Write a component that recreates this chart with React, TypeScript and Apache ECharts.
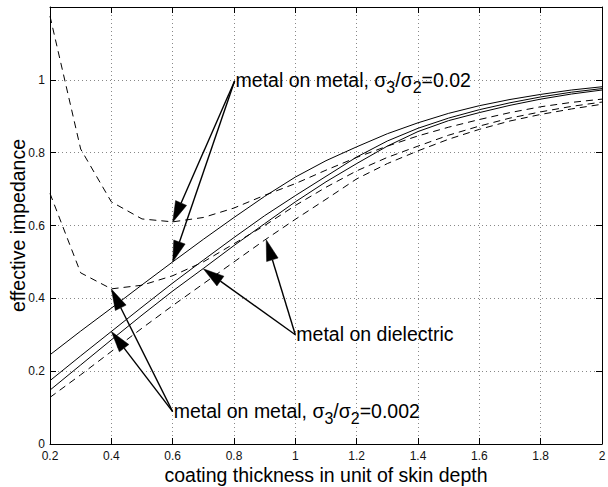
import React, { useEffect, useRef } from "react";
import * as echarts from "echarts";

// coating thickness in unit of skin depth
const thickness = [0.2, 0.3, 0.4, 0.5, 0.6, 0.7, 0.8, 0.9, 1.0, 1.1, 1.2, 1.3, 1.4, 1.5, 1.6, 1.7, 1.8, 1.9, 2.0];

// metal on metal, sigma3/sigma2 = 0.02
const mm002Solid = [0.245, 0.31, 0.373, 0.437, 0.5, 0.562, 0.622, 0.68, 0.733, 0.778, 0.816, 0.852, 0.882, 0.908, 0.929, 0.946, 0.96, 0.972, 0.981];
const mm002Dashed = [1.175, 0.81, 0.665, 0.618, 0.61, 0.622, 0.648, 0.683, 0.715, 0.752, 0.787, 0.818, 0.846, 0.87, 0.891, 0.91, 0.926, 0.938, 0.947];

// metal on metal, sigma3/sigma2 = 0.002
const mm0002Solid = [0.174, 0.242, 0.309, 0.376, 0.442, 0.505, 0.567, 0.627, 0.682, 0.735, 0.788, 0.832, 0.867, 0.895, 0.918, 0.937, 0.953, 0.966, 0.976];
const mm0002Dashed = [0.688, 0.47, 0.426, 0.436, 0.462, 0.5, 0.55, 0.6, 0.655, 0.705, 0.75, 0.787, 0.818, 0.848, 0.873, 0.895, 0.912, 0.927, 0.939];

// metal on dielectric
const dielSolid = [0.148, 0.217, 0.286, 0.354, 0.42, 0.482, 0.545, 0.605, 0.665, 0.72, 0.77, 0.818, 0.858, 0.888, 0.91, 0.93, 0.947, 0.961, 0.972];
const dielDashed = [0.128, 0.19, 0.254, 0.318, 0.38, 0.44, 0.5, 0.56, 0.617, 0.672, 0.728, 0.77, 0.805, 0.837, 0.864, 0.887, 0.905, 0.92, 0.933];

// axis ticks
const xTicks = { min: 0.2, max: 2, interval: 0.2 };
const yTicks = { min: 0, max: 1.2, interval: 0.2 };

// annotations (data coordinates): text anchor and arrow tips
const annotMM002Text = "{a|metal on metal, σ}{s|3}{a|/σ}{s|2}{a|=0.02}";
const annotMM002Anchor = [0.802, 0.997];
const annotMM002Tips = [[0.6, 0.609], [0.6, 0.5]];

const annotDielText = "{a|metal on dielectric}";
const annotDielAnchor = [1.0, 0.3];
const annotDielTips = [[0.7, 0.481], [0.905, 0.561]];

const annotMM0002Text = "{a|metal on metal, σ}{s|3}{a|/σ}{s|2}{a|=0.002}";
const annotMM0002Anchor = [0.6, 0.089];
const annotMM0002Tips = [[0.4, 0.4256], [0.4, 0.309]];

const FONT = "Liberation Sans";

function pairs(ys: number[]) {
  return thickness.map((x, i) => [x, ys[i]]);
}

export default function App() {
  const ref = useRef<HTMLDivElement>(null);

  useEffect(() => {
    if (!ref.current) return;
    const chart = echarts.init(ref.current, undefined, { renderer: "svg" });

    const solid = { color: "#000", width: 1, type: "solid" as const };
    const dashed = { color: "#000", width: 1, type: [7, 5] as any };
    const mk = (name: string, ys: number[], ls: any) => ({
      name,
      type: "line",
      data: pairs(ys),
      symbol: "none",
      smooth: false,
      lineStyle: ls,
      silent: true,
      z: 3,
    });

    const gridLine = { show: true, lineStyle: { color: "#888", width: 1, type: [1, 3] as any } };

    chart.setOption({
      animation: false,
      textStyle: { fontFamily: FONT },
      grid: { left: 50, right: 6, top: 7, bottom: 43, containLabel: false, outerBoundsMode: "none" },
      xAxis: [
        {
          type: "value",
          min: xTicks.min,
          max: xTicks.max,
          interval: xTicks.interval,
          position: "bottom",
          name: "coating thickness in unit of skin depth",
          nameLocation: "middle",
          nameGap: 21,
          nameMoveOverlap: false,
          nameTextStyle: { fontSize: 19.5, color: "#000", fontFamily: FONT },
          axisLine: { show: true, onZero: false, lineStyle: { color: "#000", width: 1 } },
          axisTick: { show: true, inside: true, length: 6, lineStyle: { color: "#000" } },
          axisLabel: {
            show: true,
            margin: 6,
            fontSize: 12,
            color: "#111",
            fontFamily: FONT,
            formatter: (v: number) => String(+v.toFixed(1)),
          },
          splitLine: gridLine,
        },
        {
          type: "value",
          min: xTicks.min,
          max: xTicks.max,
          interval: xTicks.interval,
          position: "top",
          axisLine: { show: true, onZero: false, lineStyle: { color: "#000", width: 1 } },
          axisTick: { show: true, inside: true, length: 6, lineStyle: { color: "#000" } },
          axisLabel: { show: false },
          splitLine: { show: false },
        },
      ],
      yAxis: [
        {
          type: "value",
          min: yTicks.min,
          max: yTicks.max,
          interval: yTicks.interval,
          position: "left",
          name: "effective impedance",
          nameLocation: "middle",
          nameGap: 22,
          nameMoveOverlap: false,
          nameTextStyle: { fontSize: 19.5, color: "#000", fontFamily: FONT },
          axisLine: { show: true, onZero: false, lineStyle: { color: "#000", width: 1 } },
          axisTick: { show: true, inside: true, length: 6, lineStyle: { color: "#000" } },
          axisLabel: {
            show: true,
            margin: 5,
            fontSize: 12,
            color: "#111",
            fontFamily: FONT,
            formatter: (v: number) => (v > 1.1 ? "" : String(+v.toFixed(1))),
          },
          splitLine: gridLine,
        },
        {
          type: "value",
          min: yTicks.min,
          max: yTicks.max,
          interval: yTicks.interval,
          position: "right",
          axisLine: { show: true, onZero: false, lineStyle: { color: "#000", width: 1 } },
          axisTick: { show: true, inside: true, length: 6, lineStyle: { color: "#000" } },
          axisLabel: { show: false },
          splitLine: { show: false },
        },
      ],
      series: [
        mk("mm002 solid", mm002Solid, solid),
        mk("mm002 dashed", mm002Dashed, dashed),
        mk("mm0002 solid", mm0002Solid, solid),
        mk("mm0002 dashed", mm0002Dashed, dashed),
        mk("diel solid", dielSolid, solid),
        mk("diel dashed", dielDashed, dashed),
      ],
    });

    const toPx = (p: number[]) => chart.convertToPixel({ seriesIndex: 0 }, p) as number[];
    const rich = {
      a: { fontSize: 19.5, fontFamily: FONT, color: "#000", lineHeight: 32 },
      s: { fontSize: 16, fontFamily: FONT, color: "#000", lineHeight: 16, padding: [16, 0, 0, 0] },
    };

    const HEAD_LEN = 21;
    const HEAD_HALF = 6;
    const elements: any[] = [];
    const addAnnot = (text: string, anchor: number[], tips: number[][]) => {
      const a = toPx(anchor);
      tips.forEach((t) => {
        const p = toPx(t);
        const dx = p[0] - a[0];
        const dy = p[1] - a[1];
        const len = Math.sqrt(dx * dx + dy * dy);
        const ux = dx / len;
        const uy = dy / len;
        const bx = p[0] - ux * HEAD_LEN;
        const by = p[1] - uy * HEAD_LEN;
        elements.push({
          type: "line",
          z: 100,
          silent: true,
          shape: { x1: a[0], y1: a[1], x2: bx, y2: by },
          style: { stroke: "#000", lineWidth: 1.4 },
        });
        elements.push({
          type: "polygon",
          z: 100,
          silent: true,
          shape: {
            points: [
              [p[0], p[1]],
              [bx - uy * HEAD_HALF, by + ux * HEAD_HALF],
              [bx + uy * HEAD_HALF, by - ux * HEAD_HALF],
            ],
          },
          style: { fill: "#000", stroke: "#000", lineWidth: 0.5 },
        });
      });
      elements.push({
        type: "text",
        z: 101,
        silent: true,
        x: a[0] + 1,
        y: a[1] - 1,
        style: { text, rich, align: "left", verticalAlign: "middle", fill: "#000", fontFamily: FONT, fontSize: 19.5 },
      });
    };
    addAnnot(annotMM002Text, annotMM002Anchor, annotMM002Tips);
    addAnnot(annotDielText, annotDielAnchor, annotDielTips);
    addAnnot(annotMM0002Text, annotMM0002Anchor, annotMM0002Tips);

    chart.setOption({ graphic: { elements } });

    return () => chart.dispose();
  }, []);

  return (
    <div
      ref={ref}
      style={{ position: "fixed", left: 0, top: 0, width: 608, height: 487, background: "#fff" }}
    />
  );
}
